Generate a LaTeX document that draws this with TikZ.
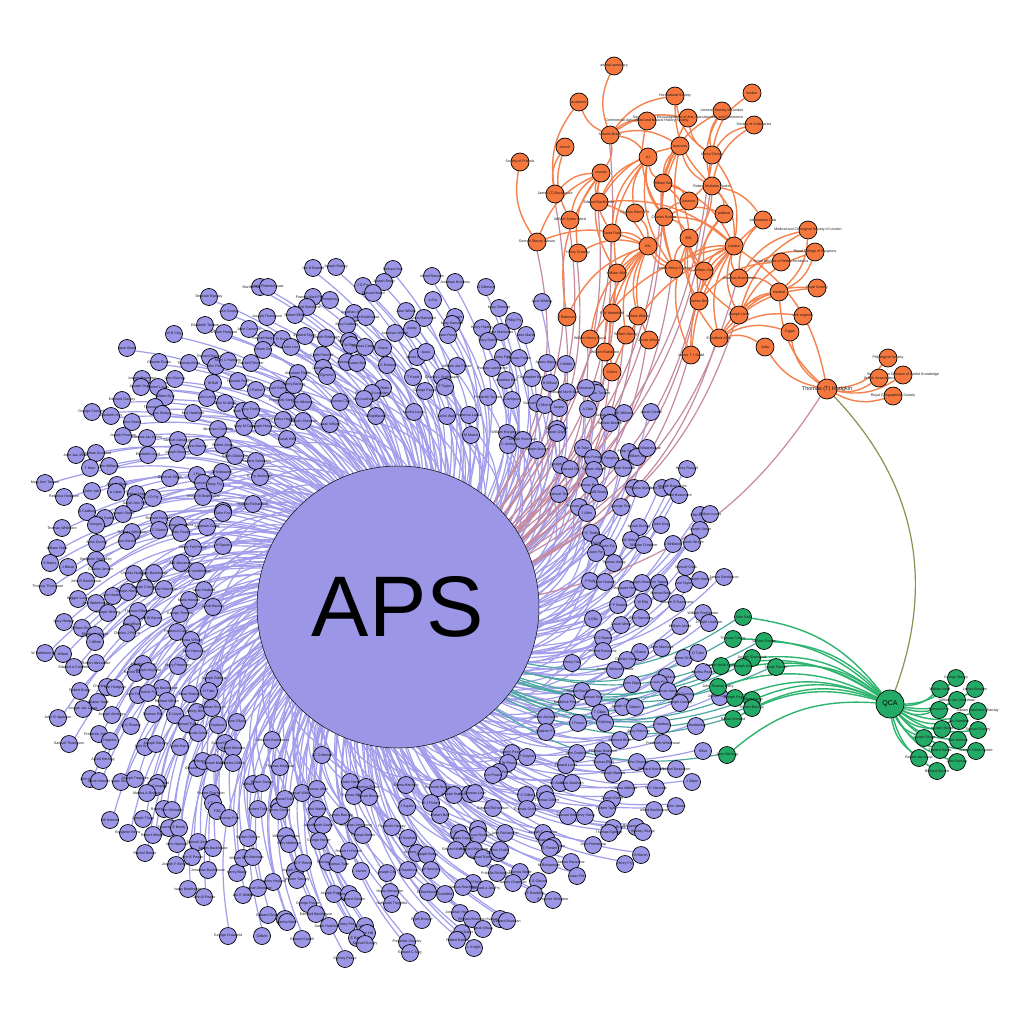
\documentclass[tikz,border=0pt]{standalone}
\usepackage{fontspec}
\setmainfont{Liberation Sans}
\pgfdeclarelayer{bg}
\pgfdeclarelayer{edges}
\pgfsetlayers{bg,edges,main}
\definecolor{purp}{HTML}{9B96E6}
\definecolor{pedge}{HTML}{A39EEB}
\definecolor{orn}{HTML}{F5773D}
\definecolor{oedge}{HTML}{F5824C}
\definecolor{mauve}{HTML}{C58A9E}
\definecolor{grn}{HTML}{23AA66}
\definecolor{gedge}{HTML}{2DB46E}
\definecolor{tealedge}{HTML}{4CA8A2}
\definecolor{oliveedge}{HTML}{8C9050}
\tikzset{
  lbl/.style={font=\fontsize{3.6}{4}\selectfont,text=black!90,inner sep=0pt},
  pn/.style={circle,draw=black,line width=0.7pt,fill=purp,minimum size=17pt,inner sep=0pt},
  on/.style={circle,draw=black,line width=0.7pt,fill=orn,minimum size=18pt,inner sep=0pt},
  gn/.style={circle,draw=black,line width=0.7pt,fill=grn,minimum size=17pt,inner sep=0pt},
  pe/.style={draw=pedge,line width=1.2pt},
  oe/.style={draw=oedge,line width=1.4pt},
  me/.style={draw=mauve,line width=1.2pt},
  te/.style={draw=tealedge,line width=1.2pt},
  ge/.style={draw=gedge,line width=1.4pt},
}
\begin{document}
\begin{tikzpicture}[x=1pt,y=-1pt]
\begin{pgfonlayer}{bg}
\fill[white] (0,0) rectangle (1024,1024);
\end{pgfonlayer}
\useasboundingbox (0,0) rectangle (1024,1024);
% central node
\node[circle,draw=black,line width=0.5pt,fill=purp,minimum size=282pt,inner sep=0pt,font=\fontsize{86}{86}\selectfont] (aps) at (398,607) {APS};
% purple nodes
\foreach [count=\i] \x/\y/\t in {
313/268/Jno D Barnett,260/287/Martha Robertshouse,268/287/Mary Robertshouse,209/297/Deborah Barclay,229/312/Ann Cooper,267/317/Joseph Thompson,205/325/Elizabeth Tatham,224/333/William Hodgson,249/329/Jane Cameron,174/334/W B Clay,266/339/Rachel Hargrave,282/339/R Hunt,291/347/John Lee,263/350/William Day,127/348/Jane Shaw,313/297/Francis Mark Fretwell,330/300/Pumphrey,307/307/Robert Rathbone,295/315/Robert Elliott,305/336/Edward Taylor,326/338/Joseph Robinson,322/355/Caleb Fletcher,298/373/Abraham Fisher,159/362/Orlando Evans,189/363/Thomas Binns,210/357/Richard Barclay,216/366/John Pease,228/361/Mary L Harrison,251/363/Rachel Fletcher,142/379/Joseph Rowntree,141/387/Joseph Grubb,158/387/Rachel Lucas,175/379/John Gurney,213/383/W Ball,238/381/Hannah Ford,256/390/J Parker,278/389/Samuel Fothergill,294/385/Henry Barclay,122/400/Edmund Gurney,165/397/William Eyre,207/398/John Lecky,225/403/John M Alliott,155/407/Thomas Hack,162/414/Ann Sharpe,193/413/M A Hewitson,243/411/Ruth Fowler,251/410/Lucy Fowler,287/401/Frederick Stephenson,303/402/Ann Atkinson,92/412/George Crosfield,111/416/Elizabeth Hoy,132/422/Ann Reed,218/429/Abraham Clarkson,244/427/Mary M Carr,263/427/Joseph Howard,283/420/Cornelius Hanbury,303/421/Hannah Sherman,287/439/Sarah Bell,330/424/Isaac Wilson,123/436/Joseph Pearson,147/438/Thomas Jas Kirkby,178/440/Samuel Alexander,197/447/Anna Barclay,223/445/Robert Jones,76/455/John Jas Jones,96/453/Jonathan Crosfield,148/455/Elizabeth Lloyd,177/453/Joseph Brooke,235/456/Sarah Dickinson,256/461/Frederic Seebohm,90/468/T Hunt,109/466/Ann Williams,45/483/Mary Ann Tatham,64/497/Rebecca Hodgson,92/491/John Ash,117/485/Joseph Shaw,116/492/a Lister,136/494/Robert Hart,153/498/J D Fry,170/478/Deborah Gilpin,197/475/J Fry,222/472/J Holdsworth,203/483/Samuel Fox,215/485/Mary Fry,260/477/E Fry Seebohm,203/497/Joseph B Braithwaite,253/504/Matilda Richardson,223/511/Ann Fry,135/503/Sarah Ann Fox,
87/512/W Cadbury,105/518/W D Grubb,123/514/Joseph Storrs,96/525/Gregory,62/528/Thomas Whitmore,159/519/Richard Hodgkin,178/525/Abraham Ransome,207/527/Abraham Darby,181/533/Mary Rooke,132/532/Thomas Wilkinson,159/530/C Clarke,127/541/Ann Barrett,223/513/John Fox,97/543/Anne Gurney,57/548/William Clark,223/546/H Squire,193/548/Henry Fell Pease,50/563/E Bates,68/567/J Bland,96/560/Benjamin Seebohm,101/569/Charles Jenson,181/563/A E Alexander,197/571/Jane Vandermeer,86/581/John R Backhouse,48/587/Thomas Thompson,134/574/Charles Hodgkin,154/573/Isaac Backhouse,113/596/John Hanbury,128/592/Joseph Harvey,145/588/Joseph Crosfield,164/589/Josiah Newman,204/590/Isaac Hadwen,78/599/Hagger Lucas,96/603/Ann Waterhouse,108/613/Joseph Whiting,138/611/Thomas Ellwood,189/600/Maria Howard,213/607/Jacob Barclay,153/618/R W Barnes,180/614/George Thomas,64/622/Mary Hooper,82/628/William Dixon,95/635/Elizabeth Wright,95/642/J White,132/624/Wm Wilson,127/633/Charles J Pierce,177/632/Rebecca Casey,191/640/Louisa Wilson,194/651/John Hancock,45/653/W Rathbone Hall,63/654/Wilson,74/667/Edward A Crosfield,96/663/Robert Alexander,143/664/Jonathan Binns,136/673/Rachel Barclay,148/671/Joseph Hoyland,178/666/Mary Priestman,214/679/Joseph Gibbins,209/691/H Tuke,107/687/Charles Hodgson,115/688/Wm Hodgson,80/691/Robert Brady,162/688/Thomas Backhouse,138/695/John Hodgson,148/693/Rachel Fry,190/694/Isaac Robson,167/701/Richard Wilson,98/702/J Eaton Hack,83/709/Joseph Jas Lucas,112/715/Joseph Armitage,153/714/Thomas Pim,175/715/E Lloyd,187/724/Samuel Tuke,197/712/Henry Binns,212/708/Jonathan Ecroyd,198/733/Jacob Green,218/725/Harrison,237/722/Ann Gilpin,58/718/John D Appleton,131/726/W C Rowley,99/734/Frederick Johnson,110/741/Hopkins,69/744/Samuel Thompson,145/747/John Bradley,156/744/Joseph Barclay,180/747/Lydia Harris,225/743/Samuel Rickman,233/748/Daniel Wheeler,272/740/Catherine Backhouse,103/760/Alfred Kitching,197/768/Edward Pease,203/761/Edward Ash,214/763/Hannah Marsh,233/763/Charles Gilbert,280/767/Thomas Hodgson,90/779/John Hustler,99/781/Sarah Hustler,121/782/Isaac Sharp,135/779/Joseph Tregelles,158/783/Ann Crosfield,156/787/Ann Compton,147/793/Martha A Bisham,253/784/William Nash,262/783/Wilson Sturge,211/793/Robert Charleton,
322/755/J C Coleman,213/803/J Tuke,217/811/TGB,229/818/Thomas Pole,164/809/Robert Whitaker,172/810/Ann Whitaker,110/820/Gill Holmes,143/819/Joseph Thorp,128/833/Benjamin Binns,153/835/Robert Weston,169/828/Edward Bowly,179/828/E Bowly,177/844/John Harrison,145/853/Rachel Reeve,198/842/Samuel Jones,213/848/James Backhouse,192/857/John E Pease,176/865/Joseph F Bennett,208/870/Jonathan Backhouse,188/889/Isaac Braithwaite,204/897/John B Pease,228/936/George Crawfield,262/936/Gilbert,302/939/Edward Cadell,345/959/Gurney Pease,237/873/Henry Brady,243/858/William Manners,253/857/Wm Manners,248/838/William Dillwyn,258/809/Robert Tuke,279/806/John F Fox,279/811/James Sturge,285/799/Daniel Tuke,302/793/Samuel Whitaker,317/789/Thomas Allen,317/809/John Mardon,316/825/Jonathan Grubb,323/825/Sarah Grubb,319/841/George Harker,286/836/William Mathews,289/844/Mary Mathews,273/882/Charles Hoyland,258/888/Hannah Brewster,243/895/Jno E Wilkes,295/871/Joseph Priestley,297/880/William Tweedy,303/863/E P Reed,268/915/Edward Grubb,285/919/M Mann,287/922/Martha Mann,308/904/George Fowler,316/914/Edmund Backhouse,329/926/Sarah Hutchinson,347/925/Mary Pell,328/862/Thomas Mann,338/864/Thomas Tuke,349/851/Robert H Forster,341/816/James Barclay,356/826/Jonathan Armstrong,363/835/Thomas Norton,361/871/James,334/894/Joseph Pease Jr,349/894/Samuel Pease,353/899/Edward Gibson,365/926/John Hill,367/933/Ann Hill,357/938/E Baker,365/944/Samuel Gundry,350/782/John Hart,366/787/Cornelius Binns,354/796/Thomas Binney,369/797/Sarah Binney,387/873/Joseph Clift,390/892/Henry Alexander,392/904/Nathaniel Tregelles,406/785/Emma Harrison,407/807/J Squire,392/827/Frederick Harvey,408/838/J Southall,408/870/M Rawlinson,407/942/Frederick Crowley,410/953/Edward C May,417/853/Andrew J Bailey,427/855/Joseph Bailey,431/870/W Spurgin,422/920/Elijah Bowyer,
512/753/Henry Pease,508/763/J W Pease,527/757/F Gayner,499/772/Jonathan Pease,493/775/Ann Pease,577/753/John Dodshon,603/751/Thomas Dodshon,603/762/Thomas Elliot,613/774/Joseph Barnett,560/783/Dr Abraham,572/783/Eliza Abraham,526/795/P C Gilbert,545/794/T G Gilbert,547/800/Thomas Gilbert,527/809/Thomas Graham,568/816/Samuel Hardy,585/816/Henry Hardy,612/799/Joseph Eaton,607/809/Robert Taylor,613/828/Jonathan Bright,609/833/Thomas Egerton,593/845/John Friendship,543/833/Joseph Crewdson,547/840/Josiah Foster,553/846/Samuel Forster,550/848/E Forster,505/833/John Richardson,478/829/J Rickman,478/835/Rebecca Rickman,459/833/J Capper,462/839/Jasper Capper,456/850/Edward Marriage,474/850/Richard Marriage,483/858/Samuel Dymond,498/853/Charles Chalk,500/850/Ann Chalk,493/808/Edward Richardson,497/873/Priscilla Richardson,520/872/Thomas Noble,513/883/James Chapman,538/881/E E Gibson,534/894/J E Bardsley,553/900/Benjamin Whittaker,549/865/M Richardson,571/862/James Ransome,577/876/Isaac Pitt,473/883/Edward Fitzhugh,463/887/Joshua Rowntree,486/889/Richard a Jas Fry,445/894/Schofield,428/892/E Backhouse,460/913/Jonathan Hodgkin,472/919/Richard Bowman,500/919/Samuel Bowman,507/921/Edward Bowman,483/929/Sarah Elway,462/933/Joseph Baker,457/940/Robert Baker,474/948/L Knight,438/788/Edmund Sturge,454/795/Joseph Southall,470/794/Richard Lean,475/793/Thomas Lean,431/803/E J Fisher,440/815/Robert Bell,
603/638/W C Barton,603/651/Robert Ransome,640/652/J Eaton,662/648/John Marriage,684/658/James Grubb,698/653/O Tuke,627/660/Charles Sturge,615/670/Joseph Whitwell Pease,572/663/Henry Hall,703/672/Martha Pease,666/677/Jacob Marsh,659/683/Louis Fry,632/684/John Gilpin,668/691/Jonas Harris,685/695/W Gurney,680/703/Joseph Gurney,720/697/Joseph Capper,582/691/Samuel Backhouse,593/698/Samuel King,567/702/Frederick Pease,623/707/Joseph Christy,635/707/Gibson,600/713/T Gilpin,605/723/Kitching,578/723/J Pease,546/717/Dean Ashworth,546/732/Stephen Fry,639/732/Mary Harrison,662/725/J Hanbury,696/726/J Doubleday,620/740/Edmund Birch,663/743/Frederick Whitehead,703/751/Elliot,637/762/John Church,652/769/Richard Harrison,676/769/Rachel Beaumont,566/765/Edward Lucas,626/789/Anna Allbright,656/788/W C Hancock,692/782/J Gilpin,654/810/Alfred Backhouse,676/806/John James,636/827/Benjamin Sharp,643/832/Stanley Sturge,641/855/B Marsh,625/864/Henry Fry,
567/392/Edward North Buxton,595/390/Frances Tuckett,597/393/Thomas Tuckett,537/403/Samuel M Marsh,545/405/J Morris,559/408/Jasper,588/409/A Dale,609/415/Josiah Dickinson,610/423/William Brewin,624/413/Hill Williams,651/412/Josiah Clerke,507/433/William Hargreaves,508/445/C Ashby,523/440/Joseph Steemson,537/450/Joseph Buxton,557/429/Charles Gilpin,557/433/Sarah Gilpin,583/448/W Tuke,593/458/Stanley Pumphrey,610/459/W Pumphrey,561/465/Joseph Binns,570/469/Edward Dix,594/470/William Allport,629/452/Philip Sansom,637/457/William Jay,647/448/Neal Waterhouse,623/468/Josiah Sansom,687/469/Henry Russell,590/485/Thomas Pease,599/493/Mill Brady,559/494/Samuel Tew,634/488/John Sturge,641/489/Sophia Sturge,662/488/John Alexander,672/487/Joseph Beaumont,679/495/Jane Beaumont,579/507/Thomas Binyon,587/513/J Allen,621/507/George Teall,700/515/Ellen Lucas,710/514/William Lucas,700/530/Joseph Stage,639/527/Josiah Gurney,661/525/John King,591/533/P C Tindall,631/540/W Wilson,644/545/William Crowther,600/543/Daniel Bell,608/547/John Fry,596/553/Jane Fry,673/544/J Birkbeck,692/543/Francis Wright,614/563/Thomas Ashby,686/567/Samuel Clark,724/577/James Sanderson,590/581/P Ball,605/582/Luke Howard,627/589/Margaret Hedley,642/583/Joseph Headley,659/583/Ann Tapsell,661/593/Samuel Beck,684/584/Ann Taylor,700/580/Joseph Hartley,618/605/P P Bastin,643/602/W Ellis,677/603/Joseph E Rawlinson,593/619/A Ellis,621/625/Josiah Merry,641/618/John Saunders,680/626/William Jones,703/613/William Freshwater,709/623/Joseph Leatham,
336/267/Joseph Radley,393/269/Richard Ash,432/276/Alfred Ransom,455/282/Jonathan Hutchins,384/282/Joseph Brady,363/286/J G Fry,373/293/Samuel Heard,486/287/D Gillmore,433/300/a Fox,499/308/Mary Clement,406/311/Jane Wilson,354/313/Jonathan Sturge,366/317/Jane Backhouse,424/318/John Ransome,542/302/Jane Whitley,455/317/J Forster,452/324/Mary Sansom,514/321/Philip Fry,347/325/Mary Cadbury,482/328/Henry Hipsley,501/332/John Martineau,412/329/Ashby,395/333/Jonathan Wilson,448/335/Jane Pease,526/335/Jane Marsh,349/341/Wilson Binns,351/345/W Binns,365/347/Thomas Cadbury,383/348/Grace,488/341/Mary Darby,417/357/James Barrett,426/352/Isaac,503/357/John Frith,519/358/Thomas Fowler,347/362/Hannah Bell,357/363/Susan Bell,387/365/J C Robson,547/363/James Hipsley,566/364/J Waller,457/366/William Jas Pease,492/368/Thomas Latchmore,323/368/Daniel Oliver,327/376/Dymond,413/377/T Knott,442/377/Charles L Braithwaite,506/380/Jonathan Bell,532/378/Christopher Bowly,550/383/H Wilson,586/388/Abraham,383/388/H Rider,372/393/Frederick A Leatham,364/399/Ann Leatham,425/391/George Payne,445/387/F Taylor,340/402/Thomas Clay,488/397/Frederick Tuckett,512/400/Catchpool,376/416/J Braithwaite,414/412/Martha Lucas,447/416/John Wall,469/415/Rebecca Lucas,471/435/M Marsh}
{\node[pn,label={[lbl]center:\t}] (p\i) at (\x,\y) {}; \xdef\np{\i}}
% orange nodes
\foreach \n/\x/\y/\t in {
o1/614/66/animal sanctuary,o2/579/102/academic,o3/675/96/Horticultural Society,o4/752/93/london,o5/722/111/Linnean Society of London,o6/688/118/{Society for the Encouragement of Arts, Manufactures and Commerce},o7/647/121/Commercial Agricultural and Natural History Society,o8/754/125/Society of Antiquaries,o9/610/135/Antonio Brady,o10/565/147/church,o11/648/157/AJ,o12/680/146/business,o13/712/155/Henry Christy,o14/520/162/Society of Friends,o15/601/173/country,o16/663/183/William Ball,o17/712/186/Robert Nicholas Fowler,o18/555/194/James (T) Backhouse,o19/599/202/Edward Backhouse,o20/689/201/botanist,o21/635/213/Charles Henry Pitt,o22/664/217/Charles Buxton,o23/724/214/political,o24/570/220/William Sykes Ward,o25/763/220/Athenaeum Club,o26/612/233/David Dale,o27/808/230/Medical and Chirurgical Society of London,o28/537/242/George Stacey Gibson,o29/648/246/ASL,o30/689/238/BSL,o31/734/246/London,o32/578/253/Henry Crawley,o33/815/252/Royal College of Surgeons,o34/781/262/Royal Institute of British Architects,o35/617/273/William Allen,o36/674/269/James Henry Gurney,o37/704/271/William Clay,o38/739/278/Jonathan Hutchinson,o39/779/292/medical,o40/817/288/Royal Society,o41/699/301/James Bell,o42/567/317/J Robinson,o43/612/313/F W Waterfield,o44/638/316/William Wilson,o45/739/315/Joseph Lister,o46/803/316/civil engineer,o47/790/332/Egypt,o48/590/339/William Henry Lloyd,o49/626/335/William Harvey,o50/649/340/James Wilson,o51/719/338/E Stafford Allen,o52/765/347/India,o53/605/352/William Rathbone,o54/691/355/James T J Dodd,o55/612/372/Collins,o56/888/358/Philological Society,o57/903/375/Society for the Diffusion of Useful Knowledge,o58/879/378/British Association,o59/893/396/Royal Geographical Society}
{\node[on,label={[lbl]center:\t}] (\n) at (\x,\y) {};}
\node[on,minimum size=20pt,label={[lbl,font=\fontsize{5.5}{6}\selectfont]center:Thomas (T) Hodgkin}] (o60) at (827,389) {};
% green nodes
\foreach \n/\x/\y/\t in {
g1/743/617/John Bell,g2/733/639/Thomas Christy,g3/764/641/William Fowler,g4/752/658/Joseph Sherwood,g5/721/666/Joseph Neild Kenny,g6/743/667/Joseph Kerr,g7/776/667/Josiah Forster,g8/718/687/John Thomas Barry,g9/735/698/Joseph Pease,g10/752/700/Robert Kemp,g11/752/708/Robert Barclay,g12/733/719/Robert Howard,g13/727/755/Jane Kitching,
g14/956/678/George Stacey,g15/940/689/William Neild,g16/975/689/James Bowden,g17/957/700/William Jas Grimshaw,g18/939/710/Edmund Fry,g19/978/711/Abram Rawlinson Barclay,g20/959/721/Jos Hamilton,g21/942/729/Joseph Sturge,g22/978/730/Samuel Gurney,g23/924/738/Joseph Sharp,g24/958/740/Geo Holmes,g25/940/750/Edward Harris,g26/976/751/Joseph Talwin Foster,g27/919/758/Robert Jas Alsop,g28/957/762/John Barclay,g29/937/771/Richard Barrett}
{\node[gn,label={[lbl]center:\t}] (\n) at (\x,\y) {};}
\node[gn,minimum size=28pt,font=\fontsize{7}{7}\selectfont] (qca) at (890,704) {QCA};
% edges
\begin{pgfonlayer}{edges}
\foreach \i in {1,...,\np} {\draw[pe] (aps) to[bend right=24] (p\i);}
\foreach \i in {1,...,13} {\draw[te] (aps) to[bend right=22] (g\i);}
\foreach \i in {9,13,16,17,18,19,22,24,26,28,32,35,36,37,38,41,42,43,44,45,48,49,50,51,53,54,55,60} {\draw[me] (aps) to[bend right=22] (o\i);}
\foreach \a/\b in {
31/13,31/17,31/22,31/37,31/38,31/41,31/45,31/51,31/54,31/36,31/16,31/19,31/48,31/55,
39/38,39/45,39/51,39/60,39/27,39/33,
12/9,12/16,12/17,12/22,12/36,12/37,12/19,
15/18,15/19,15/24,15/9,15/26,15/28,15/35,15/42,15/32,
10/18,10/24,14/28,2/9,2/18,1/9,
11/9,11/19,11/21,11/22,11/35,11/36,11/16,11/26,
29/19,29/21,29/22,29/26,29/35,29/43,29/44,29/49,29/50,29/36,29/37,29/42,29/48,29/53,29/55,29/32,29/28,
30/16,30/22,30/36,30/37,30/41,30/45,30/51,30/54,30/17,
23/17,23/22,23/37,23/41,20/13,20/16,20/22,
3/9,3/13,3/17,5/13,5/17,5/16,8/13,8/17,4/13,6/13,6/36,6/9,7/9,7/22,
25/17,25/38,25/54,40/45,40/51,33/45,33/38,34/41,46/51,47/51,47/60,52/51,52/60,27/45,27/38,
60/56,60/57,60/58,60/59,60/31}
{\draw[oe] (o\a) to[bend right=22] (o\b);}
\foreach \i in {1,...,29} {\draw[ge] (qca) to[bend right=22] (g\i);}
\draw[draw=oliveedge,line width=1.2pt] (qca) to[bend right=32] (o60);
\end{pgfonlayer}
\end{tikzpicture}
\end{document}
